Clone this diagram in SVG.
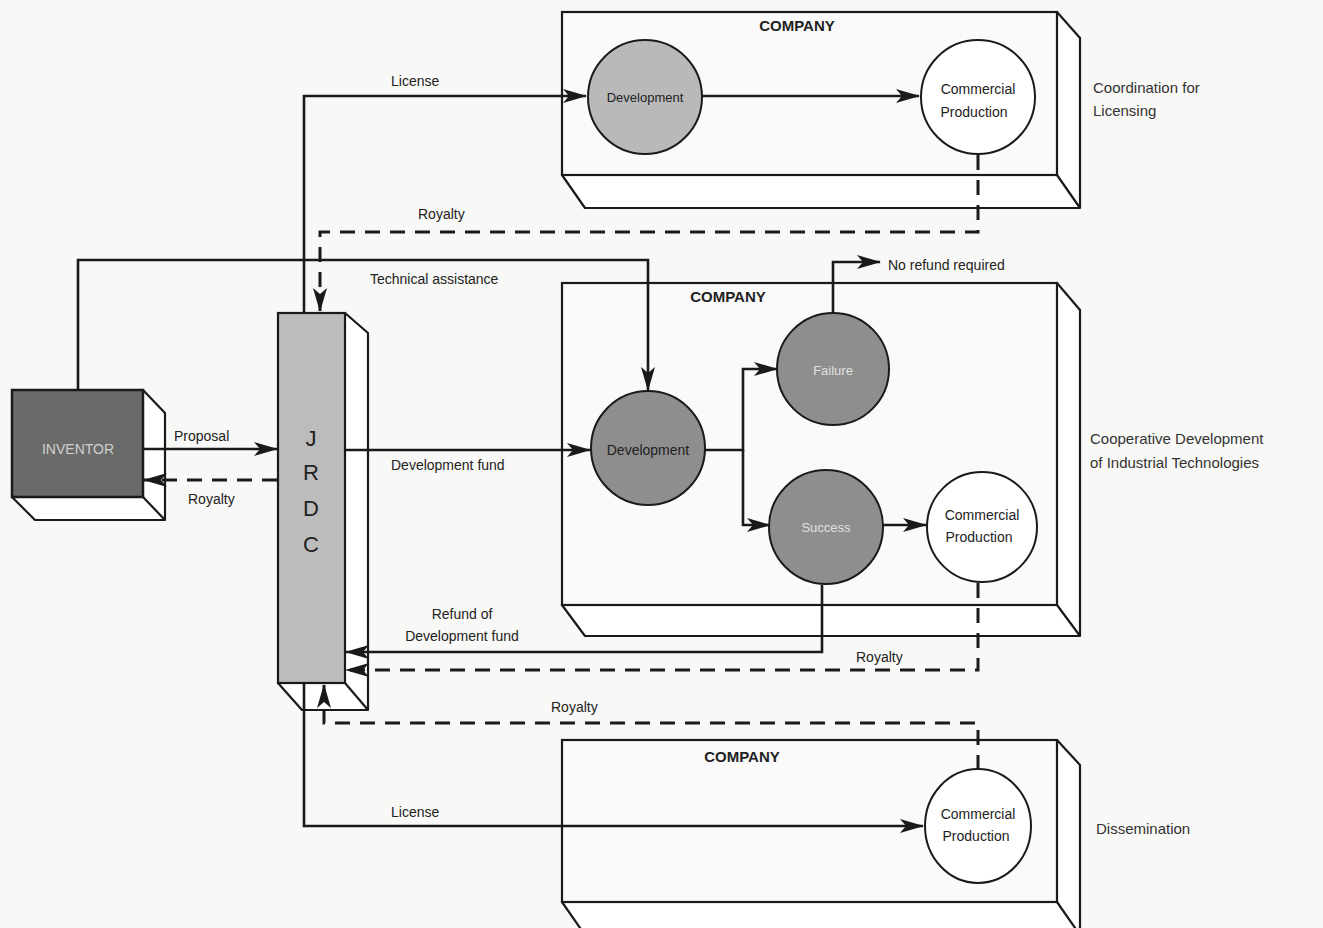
<svg xmlns="http://www.w3.org/2000/svg" width="1323" height="928" viewBox="0 0 1323 928">
<defs>
<marker id="ah" markerWidth="24" markerHeight="14" refX="23" refY="7" orient="auto" markerUnits="userSpaceOnUse">
<path d="M0,0 L24,7 L0,14 L6,7 Z" fill="#1a1a1a"/>
</marker>
</defs>
<style>
.box{fill:#fafafa;stroke:#1a1a1a;stroke-width:2.2}
.side{fill:#ffffff;stroke:#1a1a1a;stroke-width:2.2;stroke-linejoin:round}
.ln{fill:none;stroke:#1a1a1a;stroke-width:2.6}
.dash{fill:none;stroke:#1a1a1a;stroke-width:3;stroke-dasharray:15 10}
.t{font-family:"Liberation Sans",Arial,sans-serif;font-size:14px;fill:#222}
.tc{font-family:"Liberation Sans",Arial,sans-serif;font-size:14px;fill:#222;text-anchor:middle}
.co{font-family:"Liberation Sans",Arial,sans-serif;font-size:15px;font-weight:bold;fill:#222;text-anchor:middle}
.lab{font-family:"Liberation Sans",Arial,sans-serif;font-size:15px;fill:#333}
.circW{fill:#ffffff;stroke:#1a1a1a;stroke-width:2}
.circL{fill:#b9b9b9;stroke:#1a1a1a;stroke-width:2}
.circD{fill:#8e8e8e;stroke:#1a1a1a;stroke-width:2}
</style>
<rect width="1323" height="928" fill="#f8f8f6"/>

<g id="company-top">
<path class="side" d="M1057,12 L1080,38 L1080,208 L585,208 L562,175 Z"/>
<line class="side" x1="1057" y1="175" x2="1080" y2="208"/>
<rect class="box" x="562" y="12" width="495" height="163" fill="#ececea"/>
<text class="co" x="797" y="31">COMPANY</text>
</g>
<g id="company-mid">
<path class="side" d="M1057,283 L1080,310 L1080,636 L585,636 L562,605 Z"/>
<line class="side" x1="1057" y1="605" x2="1080" y2="636"/>
<rect class="box" x="562" y="283" width="495" height="322"/>
<text class="co" x="728" y="302">COMPANY</text>
</g>
<g id="company-bot">
<path class="side" d="M1057,740 L1080,765 L1080,935 L585,935 L562,902 Z"/>
<line class="side" x1="1057" y1="902" x2="1080" y2="935"/>
<rect class="box" x="562" y="740" width="495" height="162"/>
<text class="co" x="742" y="762">COMPANY</text>
</g>

<g id="inventor">
<path class="side" d="M143,390 L165,413 L165,520 L35,520 L12,497 Z"/>
<line class="side" x1="143" y1="497" x2="165" y2="520"/>
<rect x="12" y="390" width="131" height="107" fill="#6a6a6a" stroke="#1a1a1a" stroke-width="2.5"/>
<text class="tc" x="78" y="454" style="fill:#d0d0d0;font-size:14px">INVENTOR</text>
</g>

<g id="jrdc">
<path class="side" d="M345,313 L368,333 L368,710 L302,710 L278,683 Z"/>
<line class="side" x1="345" y1="683" x2="368" y2="710"/>
<rect x="278" y="313" width="67" height="370" fill="#bcbcbc" stroke="#1a1a1a" stroke-width="2.2"/>
<text class="tc" x="311" y="446" style="font-size:22px">J</text>
<text class="tc" x="311" y="480" style="font-size:22px">R</text>
<text class="tc" x="311" y="516" style="font-size:22px">D</text>
<text class="tc" x="311" y="552" style="font-size:22px">C</text>
</g>

<g id="dev1"><circle class="circL" cx="645" cy="97" r="57"/><text class="tc" x="645" y="102" style="font-size:13px">Development</text></g>
<g id="cp1"><circle class="circW" cx="978" cy="97" r="57"/><text class="tc" x="978" y="94" style="font-size:14px">Commercial</text><text class="tc" x="974" y="117" style="font-size:14px">Production</text></g>
<g id="dev2"><circle class="circD" cx="648" cy="448" r="57"/><text class="tc" x="648" y="455" style="font-size:14px">Development</text></g>
<g id="failure"><circle class="circD" cx="833" cy="369" r="56"/><text class="tc" x="833" y="375" style="font-size:13px;fill:#e0e0e0">Failure</text></g>
<g id="success"><circle class="circD" cx="826" cy="527" r="57"/><text class="tc" x="826" y="532" style="font-size:13px;fill:#e0e0e0">Success</text></g>
<g id="cp2"><circle class="circW" cx="982" cy="527" r="55"/><text class="tc" x="982" y="520" style="font-size:14px">Commercial</text><text class="tc" x="979" y="542" style="font-size:14px">Production</text></g>
<g id="cp3"><ellipse class="circW" cx="978" cy="826" rx="53" ry="57"/><text class="tc" x="978" y="819" style="font-size:14px">Commercial</text><text class="tc" x="976" y="841" style="font-size:14px">Production</text></g>

<g id="connectors">
<polyline class="ln" points="304,313 304,96 586,96" marker-end="url(#ah)"/>
<line class="ln" x1="702" y1="96" x2="919" y2="96" marker-end="url(#ah)"/>
<polyline class="dash" points="978,155 978,232 320,232 320,311" marker-end="url(#ah)"/>
<polyline class="ln" points="78,390 78,260 648,260 648,390" marker-end="url(#ah)"/>
<line class="ln" x1="143" y1="449" x2="277" y2="449" marker-end="url(#ah)"/>
<line class="dash" x1="277" y1="480" x2="144" y2="480" marker-end="url(#ah)"/>
<line class="ln" x1="345" y1="450" x2="590" y2="450" marker-end="url(#ah)"/>
<polyline class="ln" points="705,450 743,450 743,369 777,369" marker-end="url(#ah)"/>
<polyline class="ln" points="743,450 743,525 770,525" marker-end="url(#ah)"/>
<polyline class="ln" points="833,313 833,262 880,262" marker-end="url(#ah)"/>
<line class="ln" x1="883" y1="525" x2="926" y2="525" marker-end="url(#ah)"/>
<polyline class="ln" points="822,585 822,652 346,652" marker-end="url(#ah)"/>
<polyline class="dash" points="978,583 978,670 346,670" marker-end="url(#ah)"/>
<polyline class="dash" points="978,770 978,723 324,723 324,685" marker-end="url(#ah)"/>
<polyline class="ln" points="304,683 304,826 923,826" marker-end="url(#ah)"/>
</g>

<g id="labels">
<text class="t" x="391" y="86">License</text>
<text class="t" x="418" y="219">Royalty</text>
<text class="t" x="370" y="284">Technical assistance</text>
<text class="t" x="174" y="441">Proposal</text>
<text class="t" x="188" y="504">Royalty</text>
<text class="t" x="391" y="470">Development fund</text>
<text class="t" x="888" y="270">No refund required</text>
<text class="tc" x="462" y="619">Refund of</text>
<text class="tc" x="462" y="641">Development fund</text>
<text class="t" x="856" y="662">Royalty</text>
<text class="t" x="551" y="712">Royalty</text>
<text class="t" x="391" y="817">License</text>
<text class="lab" x="1093" y="93">Coordination for</text>
<text class="lab" x="1093" y="116">Licensing</text>
<text class="lab" x="1090" y="444">Cooperative Development</text>
<text class="lab" x="1090" y="468">of Industrial Technologies</text>
<text class="lab" x="1096" y="834">Dissemination</text>
</g>
</svg>
